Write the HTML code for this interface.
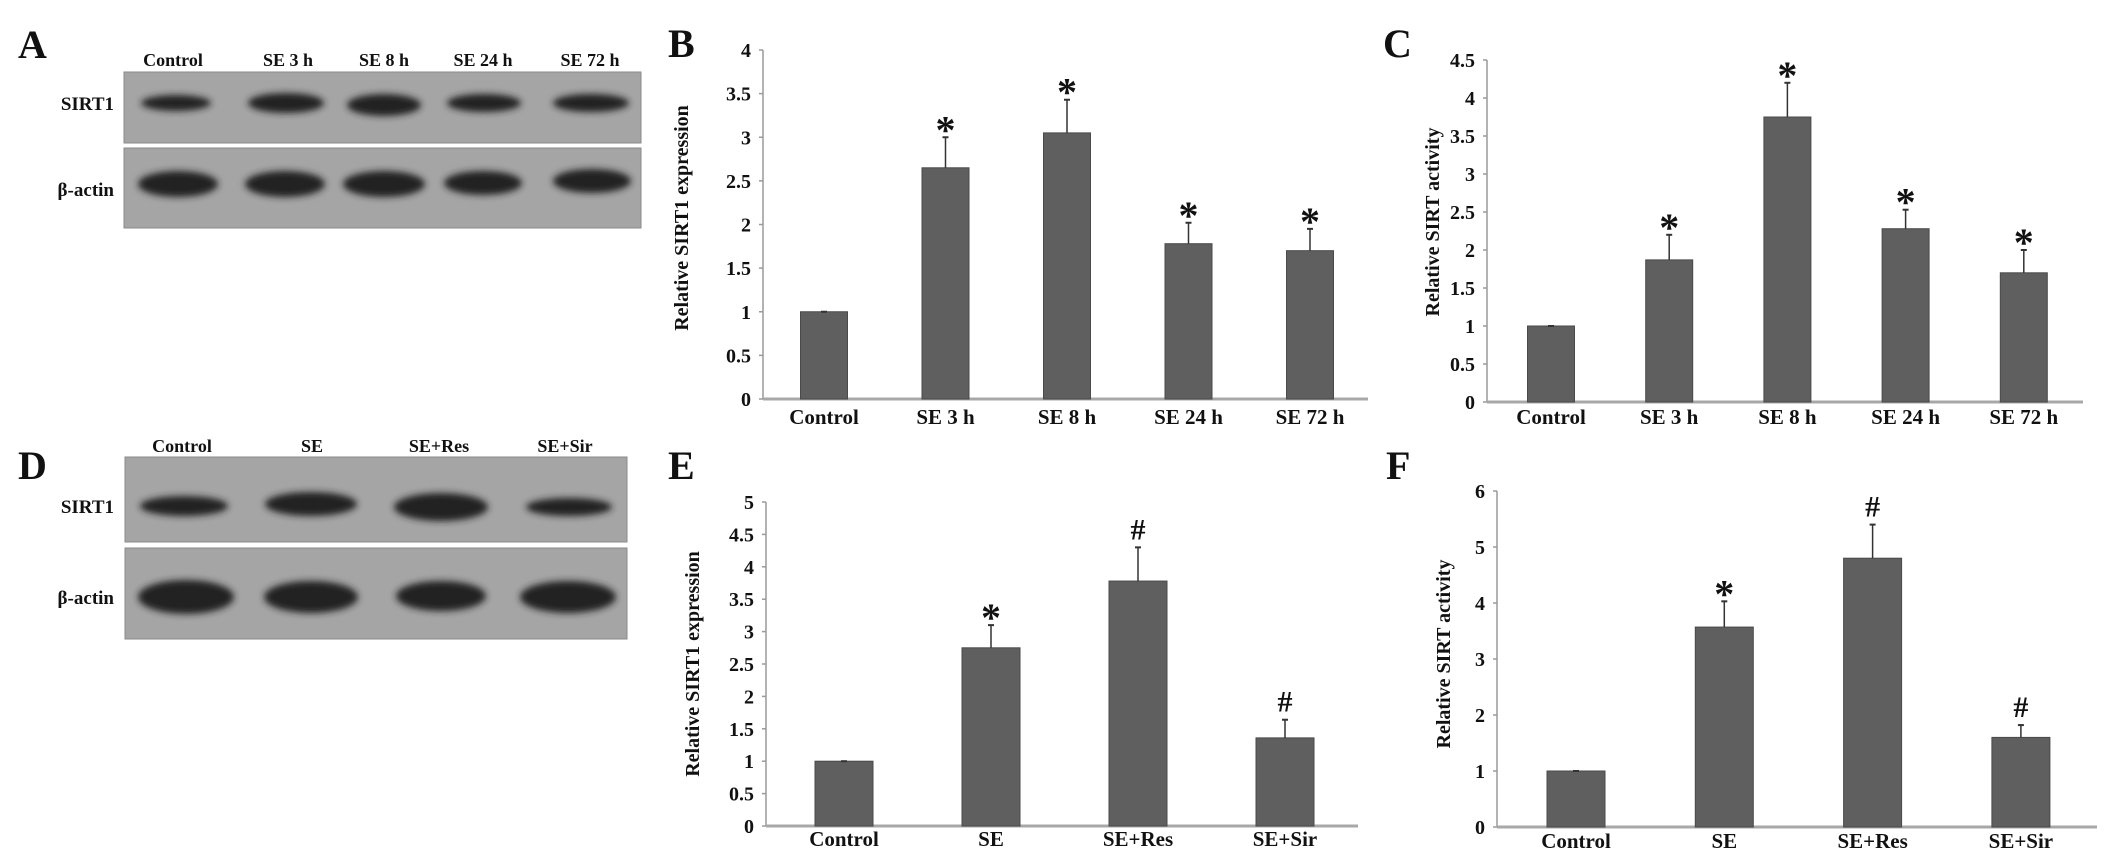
<!DOCTYPE html>
<html><head><meta charset="utf-8"><style>
html,body{margin:0;padding:0;background:#fff;}
svg{display:block;}
text{font-family:"Liberation Serif",serif;font-weight:bold;fill:#111;}
</style></head><body>
<svg id="fig" width="2126" height="868" viewBox="0 0 2126 868" xmlns="http://www.w3.org/2000/svg">
<defs>
<filter id="blur" x="-30%" y="-60%" width="160%" height="220%"><feGaussianBlur stdDeviation="3.5"/></filter>
</defs>
<g id="blots"></g>
<g id="charts"></g>
</svg>
<script>
// ---- Chart data ----
const timeCats = ["Control","SE 3 h","SE 8 h","SE 24 h","SE 72 h"];
const treatCats = ["Control","SE","SE+Res","SE+Sir"];
const bVals = [1.0, 2.65, 3.05, 1.78, 1.70];
const bErrs = [1.0, 3.0, 3.43, 2.02, 1.95];
const bMarks = ["", "*", "*", "*", "*"];
const bTicks = ["0","0.5","1","1.5","2","2.5","3","3.5","4"];
const cVals = [1.0, 1.87, 3.75, 2.28, 1.70];
const cErrs = [1.0, 2.2, 4.2, 2.53, 2.0];
const cMarks = ["", "*", "*", "*", "*"];
const cTicks = ["0","0.5","1","1.5","2","2.5","3","3.5","4","4.5"];
const eVals = [1.0, 2.75, 3.78, 1.36];
const eErrs = [1.0, 3.1, 4.3, 1.64];
const eMarks = ["", "*", "#", "#"];
const eTicks = ["0","0.5","1","1.5","2","2.5","3","3.5","4","4.5","5"];
const fVals = [1.0, 3.57, 4.8, 1.6];
const fErrs = [1.0, 4.03, 5.4, 1.82];
const fMarks = ["", "*", "#", "#"];
const fTicks = ["0","1","2","3","4","5","6"];

const NS = "http://www.w3.org/2000/svg";
function mk(tag, attrs, parent){
  const e = document.createElementNS(NS, tag);
  for (const k in attrs) e.setAttribute(k, attrs[k]);
  parent.appendChild(e);
  return e;
}
const chartsG = document.getElementById("charts");
const blotsG = document.getElementById("blots");

function drawChart(id, cats, vals, errs, marks, ticks, L){
  const g = mk("g", {}, chartsG);
  
  
  const maxV = parseFloat(ticks[ticks.length-1]);
  const y = v => L.y0 - (v / maxV) * (L.y0 - L.yTop);
  const xc = i => L.x0 + L.first + i * L.step;
  const let_ = mk("text", {x: L.letX, y: L.letY, "font-size": 40}, g);
  let_.textContent = L.letter;
  
  
  const ya = mk("line", {x1: L.x0, y1: L.yTop, x2: L.x0, y2: L.y0, stroke: "#9a9a9a", "stroke-width": 1.5}, g);
  
  
  ticks.forEach(t => {
    const ty = y(parseFloat(t));
    mk("line", {x1: L.x0 - 4, y1: ty, x2: L.x0, y2: ty, stroke: "#9a9a9a", "stroke-width": 1.5}, g);
    const tl = mk("text", {x: L.x0 - 12, y: ty + 7, "font-size": 20, "text-anchor": "end"}, g);
    tl.textContent = t;
    
    
  });
  const xa = mk("line", {x1: L.x0, y1: L.y0, x2: L.xEnd, y2: L.y0, stroke: "#a8a8a8", "stroke-width": 3}, g);
  
  
  const yt = mk("text", {x: 0, y: 0, "font-size": 20, "text-anchor": "middle",
    transform: `translate(${L.titleX},${L.titleY}) rotate(-90)`}, g);
  yt.textContent = L.title;
  
  
  cats.forEach((c, i) => {
    const cx = xc(i);
    const top = y(vals[i]);
    const bar = mk("rect", {x: cx - L.bw/2, y: top, width: L.bw, height: L.y0 - top, fill: "#5f5f5f", stroke: "#4a4a4a", "stroke-width": 1}, g);
    
    
    const et = y(errs[i]);
    const eb = mk("g", {}, g);
    
    
    mk("line", {x1: cx, y1: top, x2: cx, y2: et, stroke: "#333", "stroke-width": 1.5}, eb);
    mk("line", {x1: cx - 3, y1: et, x2: cx + 3, y2: et, stroke: "#333", "stroke-width": 2}, eb);
    if (marks[i]) {
      const star = marks[i] === "*";
      const m = mk("text", {x: cx, y: et - 8 + (star ? 14 : 0), "font-size": star ? 40 : 30, "text-anchor": "middle"}, g);
      m.textContent = marks[i];
      
      
    }
    const xl = mk("text", {x: cx, y: L.labY, "font-size": 21, "text-anchor": "middle"}, g);
    xl.textContent = c;
    
    
  });
}

drawChart("chart-b", timeCats, bVals, bErrs, bMarks, bTicks,
  {x0: 763, xEnd: 1368, yTop: 50, y0: 399, first: 61, step: 121.5, bw: 47, labY: 424,
   letter: "B", letX: 668, letY: 57, title: "Relative SIRT1 expression", titleX: 688, titleY: 218});
drawChart("chart-c", timeCats, cVals, cErrs, cMarks, cTicks,
  {x0: 1487, xEnd: 2083, yTop: 60, y0: 402, first: 64, step: 118.2, bw: 47, labY: 424,
   letter: "C", letX: 1383, letY: 57, title: "Relative SIRT activity", titleX: 1439, titleY: 222});
drawChart("chart-e", treatCats, eVals, eErrs, eMarks, eTicks,
  {x0: 766, xEnd: 1358, yTop: 502, y0: 826, first: 78, step: 147, bw: 58, labY: 846,
   letter: "E", letX: 668, letY: 479, title: "Relative SIRT1 expression", titleX: 699, titleY: 664});
drawChart("chart-f", treatCats, fVals, fErrs, fMarks, fTicks,
  {x0: 1497, xEnd: 2097, yTop: 491, y0: 827, first: 79, step: 148.3, bw: 58, labY: 848,
   letter: "F", letX: 1386, letY: 479, title: "Relative SIRT activity", titleX: 1450, titleY: 654});

// ---- Western blots ----
function drawBlot(id, letter, letY, cols, colX, colY, rows){
  const g = mk("g", {}, blotsG);
  
  
  const l = mk("text", {x: 18, y: letY, "font-size": 40}, g);
  l.textContent = letter;
  
  
  cols.forEach((c, i) => {
    const t = mk("text", {x: colX[i], y: colY, "font-size": 18, "text-anchor": "middle"}, g);
    t.textContent = c;
    
    
  });
  rows.forEach(r => {
    const rg = mk("g", {}, g);
    
    
    mk("rect", {x: r.x, y: r.y, width: r.w, height: r.h, fill: "#a5a5a5", stroke: "#8a8a8a", "stroke-width": 1}, rg);
    r.bands.forEach(b => {
      const e = mk("ellipse", {cx: b[0], cy: b[1], rx: b[2], ry: b[3], fill: "#222", filter: "url(#blur)"}, rg);
      
      
    });
    const lab = mk("text", {x: 114, y: r.labY, "font-size": 19, "text-anchor": "end"}, g);
    lab.textContent = r.label;
    
    
  });
}
drawBlot("blot-a", "A", 58, timeCats, [173, 288, 384, 483, 590], 66, [
  {name: "sirt1", label: "SIRT1", labY: 110, x: 124, y: 72, w: 517, h: 71,
   bands: [[176,103,35,8],[286,103,38,10],[384,105,37,11],[484,103,37,9],[591,103,38,9]]},
  {name: "actin", label: "β-actin", labY: 196, x: 124, y: 148, w: 517, h: 80,
   bands: [[178,184,40,13],[285,184,40,13],[384,184,41,13],[483,183,39,12],[592,181,39,12]]}
]);
drawBlot("blot-d", "D", 479, treatCats, [182, 312, 439, 565], 452, [
  {name: "sirt1", label: "SIRT1", labY: 513, x: 125, y: 457, w: 502, h: 85,
   bands: [[184,506,44,10],[311,504,46,12],[441,507,47,14],[569,507,43,9]]},
  {name: "actin", label: "β-actin", labY: 604, x: 125, y: 548, w: 502, h: 91,
   bands: [[186,597,48,17],[311,597,47,16],[441,596,45,15],[568,597,48,16]]}
]);
</script>
</body></html>
